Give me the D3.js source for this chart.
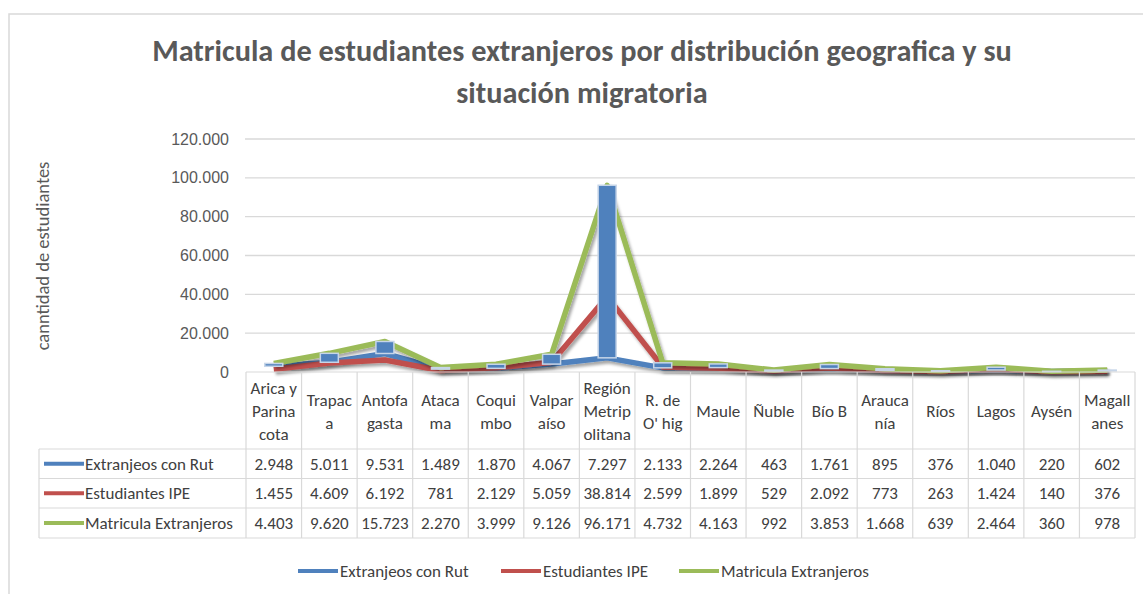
<!DOCTYPE html>
<html>
<head>
<meta charset="utf-8">
<script src="https://cdn.jsdelivr.net/npm/d3@7"></script>
<style>
  body { margin: 0; background: #fff; }
  svg { display: block; font-family: Carlito, Lato, "Open Sans", sans-serif; }
</style>
</head>
<body>
<svg id="chart" width="1143" height="594"></svg>
<script>
const categories = [
  "Arica y\nParina\ncota", "Trapac\na", "Antofa\ngasta", "Ataca\nma", "Coqui\nmbo",
  "Valpar\naíso", "Región\nMetrip\nolitana", "R. de\nO' hig", "Maule", "Ñuble",
  "Bío B", "Arauca\nnía", "Ríos", "Lagos", "Aysén", "Magall\nanes"
];
const seriesNames = ["Extranjeos con Rut", "Estudiantes IPE", "Matricula Extranjeros"];
const conRut = [2948, 5011, 9531, 1489, 1870, 4067, 7297, 2133, 2264, 463, 1761, 895, 376, 1040, 220, 602];
const ipe = [1455, 4609, 6192, 781, 2129, 5059, 38814, 2599, 1899, 529, 2092, 773, 263, 1424, 140, 376];
const matricula = [4403, 9620, 15723, 2270, 3999, 9126, 96171, 4732, 4163, 992, 3853, 1668, 639, 2464, 360, 978];
const yTicks = [0, 20000, 40000, 60000, 80000, 100000, 120000];
const colors = ["#4f81bd", "#c0504d", "#9bbb59"];

const svg = d3.select("#chart");
const loc = d3.formatLocale({ decimal: ",", thousands: ".", grouping: [3], currency: ["", ""] });
const fmt = loc.format(",d");

// frame
svg.append("rect").attr("x", 9).attr("y", 14).attr("width", 1150).attr("height", 600)
  .attr("fill", "none").attr("stroke", "#d9d9d9").attr("stroke-width", 1.5);

// title
const title = svg.append("g").attr("fill", "#595959").attr("font-weight", "bold").attr("text-anchor", "middle");
const t1 = title.append("text").attr("x", 582).attr("y", 61).attr("font-size", 27)
  .text("Matricula de estudiantes extranjeros por distribución geografica y su");
const t2 = title.append("text").attr("x", 582).attr("y", 103).attr("font-size", 27)
  .text("situación migratoria");
const fs = 27 * 860 / t1.node().getComputedTextLength();
t1.attr("font-size", fs);
t2.attr("font-size", fs);

const x0 = 246, colW = (1135 - 246) / categories.length;
const x = d3.scaleBand().domain(d3.range(categories.length)).range([x0, 1135]);
const y = d3.scaleLinear().domain([0, 120000]).range([372, 139]);

// gridlines + y axis
const yAxis = d3.axisLeft(y).tickValues(yTicks).tickFormat(fmt).tickSize(0).tickPadding(16);
const ga = svg.append("g").attr("transform", "translate(245,0)").call(yAxis);
ga.select(".domain").remove();
ga.selectAll("text").attr("fill", "#595959").attr("font-size", 16).attr("font-family", "inherit");
svg.append("g").selectAll("line").data(yTicks.slice(1)).join("line")
  .attr("x1", 245).attr("x2", 1135).attr("y1", d => y(d)).attr("y2", d => y(d))
  .attr("stroke", "#d9d9d9").attr("stroke-width", 1.3);

svg.append("text").attr("transform", "translate(49,256) rotate(-90)")
  .attr("text-anchor", "middle").attr("fill", "#595959").attr("font-size", 18.5)
  .text("canntidad de estudiantes");

// shadow
const defs = svg.append("defs");
defs.append("filter").attr("id", "sh").attr("x", "-10%").attr("y", "-10%").attr("width", "130%").attr("height", "130%")
  .append("feDropShadow").attr("dx", 2).attr("dy", 3).attr("stdDeviation", 1.5)
  .attr("flood-color", "#000").attr("flood-opacity", 0.35);

const cx = i => x(i) + x.bandwidth() / 2;
const line = d3.line().x((d, i) => cx(i)).y(d => y(d));
[conRut, ipe, matricula].forEach((s, k) => {
  svg.append("path").datum(s).attr("d", line).attr("fill", "none")
    .attr("stroke", colors[k]).attr("stroke-width", 5.5).attr("stroke-linejoin", "round")
    .attr("filter", "url(#sh)");
});

// up bars between first and last series
svg.append("g").selectAll("rect").data(d3.range(categories.length)).join("rect")
  .attr("x", i => cx(i) - 9).attr("width", 18)
  .attr("y", i => y(Math.max(conRut[i], matricula[i])))
  .attr("height", i => Math.abs(y(conRut[i]) - y(matricula[i])))
  .attr("fill", "#4f81bd").attr("stroke", "#c6d5e8").attr("stroke-width", 1.5);

// data table
const grid = svg.append("g").attr("stroke", "#d9d9d9").attr("stroke-width", 1.2);
const rowY = [372, 449, 478.5, 508, 538];
grid.append("line").attr("x1", x0).attr("x2", 1135).attr("y1", rowY[0]).attr("y2", rowY[0]);
rowY.slice(1).forEach(v => grid.append("line").attr("x1", 39).attr("x2", 1135).attr("y1", v).attr("y2", v));
d3.range(categories.length + 1).forEach(i => {
  grid.append("line").attr("x1", x0 + i * colW).attr("x2", x0 + i * colW).attr("y1", rowY[0]).attr("y2", rowY[4]);
});
grid.append("line").attr("x1", 39).attr("x2", 39).attr("y1", rowY[1]).attr("y2", rowY[4]);

const tbl = svg.append("g").attr("fill", "#404040").attr("font-size", 17).attr("text-anchor", "middle");
categories.forEach((c, i) => {
  const parts = c.split("\n");
  const t = tbl.append("text").attr("x", cx(i)).attr("y", 411 - (parts.length - 1) * 11.5 + 6);
  parts.forEach((p, j) => t.append("tspan").attr("x", cx(i)).attr("dy", j ? 23 : 0).text(p));
});
[conRut, ipe, matricula].forEach((s, k) => {
  const ym = (rowY[k + 1] + rowY[k + 2]) / 2 + 6;
  s.forEach((v, i) => tbl.append("text").attr("x", cx(i)).attr("y", ym).text(fmt(v)));
  svg.append("line").attr("x1", 44).attr("x2", 84).attr("y1", ym - 6).attr("y2", ym - 6)
    .attr("stroke", colors[k]).attr("stroke-width", 4);
  tbl.append("text").attr("x", 85).attr("y", ym).attr("text-anchor", "start").text(seriesNames[k]);
});

// legend
const legX = [298, 501, 679];
seriesNames.forEach((n, k) => {
  svg.append("line").attr("x1", legX[k]).attr("x2", legX[k] + 40).attr("y1", 571).attr("y2", 571)
    .attr("stroke", colors[k]).attr("stroke-width", 4);
  svg.append("text").attr("x", legX[k] + 42).attr("y", 577).attr("fill", "#404040")
    .attr("font-size", 17).text(n);
});
</script>
</body>
</html>
